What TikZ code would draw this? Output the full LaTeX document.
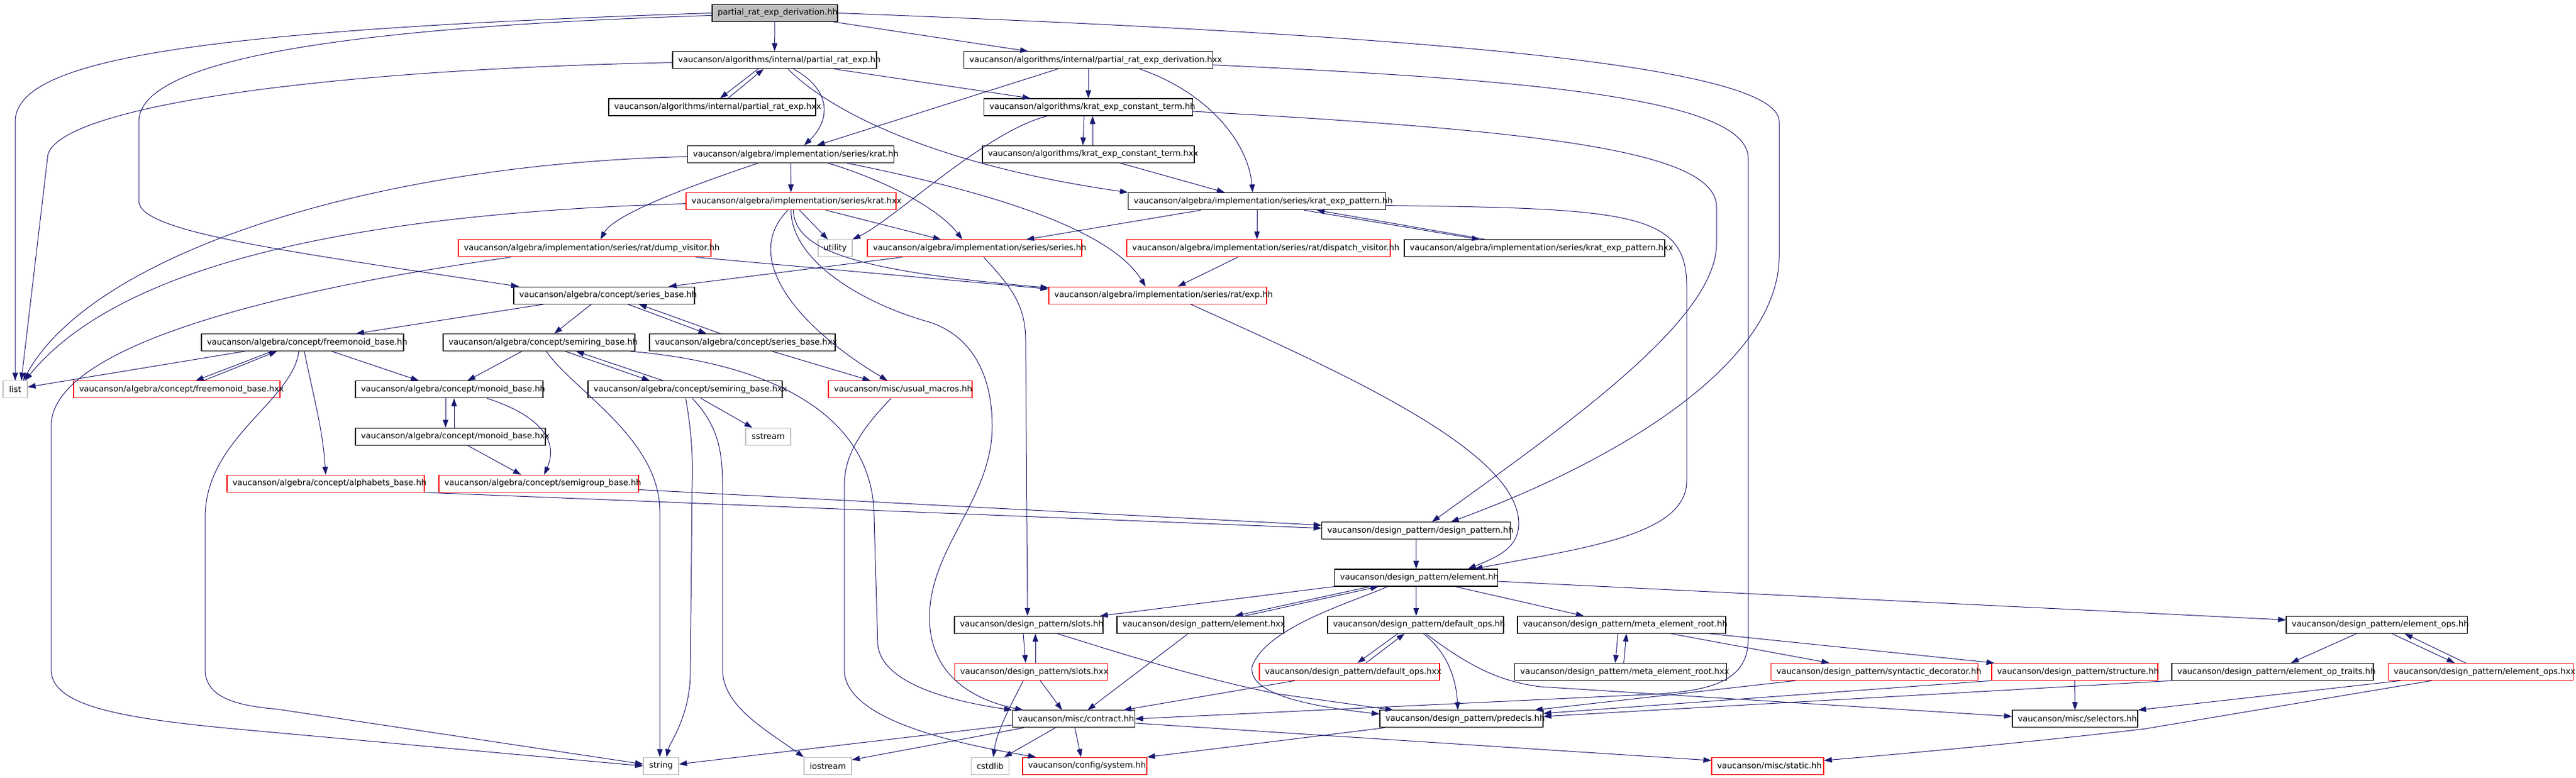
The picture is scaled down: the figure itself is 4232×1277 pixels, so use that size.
\documentclass[tikz,border=0pt]{standalone}
\usepackage{fontspec}
\setmainfont{DejaVu Sans}
\usetikzlibrary{arrows.meta}
\definecolor{edgec}{HTML}{191970}
\newcommand{\lb}[2]{\makebox[#1pt][l]{\hspace{9pt}#2}}
\tikzset{
  nd/.style={rectangle, inner sep=0pt, minimum height=28pt, font=\fontsize{13.5}{16}\selectfont, text=black},
  bk/.style={nd, draw=black, line width=1.1pt},
  rd/.style={nd, draw=red, line width=1.1pt},
  gy/.style={nd, draw=gray!50, line width=1.1pt},
  rt/.style={bk, fill=gray!50},
  conn/.style={draw=edgec, line width=1pt, -{Triangle[length=13pt,width=9pt]}},
}
\begin{document}
\begin{tikzpicture}[x=1pt,y=-1pt]
\fill[white] (0,0) rectangle (4232,1277);
\useasboundingbox (0,0) rectangle (4232,1277);
% nodes
\node[rt] (root) at (1273,21.4) {\lb{206}{partial\_rat\_exp\_derivation.hh}};
\node[bk] (prh) at (1272.5,98.7) {\lb{335}{vaucanson/algorithms/internal/partial\_rat\_exp.hh}};
\node[bk] (prdx) at (1788,98.7) {\lb{409}{vaucanson/algorithms/internal/partial\_rat\_exp\_derivation.hxx}};
\node[bk] (prx) at (1170,176) {\lb{340}{vaucanson/algorithms/internal/partial\_rat\_exp.hxx}};
\node[bk] (cth) at (1788,176) {\lb{343}{vaucanson/algorithms/krat\_exp\_constant\_term.hh}};
\node[bk] (krh) at (1299,253.3) {\lb{339}{vaucanson/algebra/implementation/series/krat.hh}};
\node[bk] (ctx) at (1788,253.3) {\lb{348}{vaucanson/algorithms/krat\_exp\_constant\_term.hxx}};
\node[rd] (krx) at (1299.5,330.6) {\lb{345}{vaucanson/algebra/implementation/series/krat.hxx}};
\node[bk] (keph) at (2065,330.6) {\lb{423}{vaucanson/algebra/implementation/series/krat\_exp\_pattern.hh}};
\node[rd] (dump) at (960.5,407.9) {\lb{415}{vaucanson/algebra/implementation/series/rat/dump\_visitor.hh}};
\node[gy, minimum width=56pt] (util) at (1372,407.9) {utility};
\node[rd] (serh) at (1601,407.9) {\lb{352}{vaucanson/algebra/implementation/series/series.hh}};
\node[rd] (disp) at (2067.5,407.9) {\lb{433}{vaucanson/algebra/implementation/series/rat/dispatch\_visitor.hh}};
\node[bk] (kepx) at (2521,407.9) {\lb{428}{vaucanson/algebra/implementation/series/krat\_exp\_pattern.hxx}};
\node[bk] (sbh) at (992.5,485.2) {\lb{297}{vaucanson/algebra/concept/series\_base.hh}};
\node[rd] (exph) at (1902,485.2) {\lb{358}{vaucanson/algebra/implementation/series/rat/exp.hh}};
\node[bk] (fmh) at (497,562.5) {\lb{332}{vaucanson/algebra/concept/freemonoid\_base.hh}};
\node[bk] (srh) at (885.5,562.5) {\lb{315}{vaucanson/algebra/concept/semiring\_base.hh}};
\node[bk] (sbx) at (1219.5,562.5) {\lb{305}{vaucanson/algebra/concept/series\_base.hxx}};
\node[gy, minimum width=40pt] (list) at (25,639.8) {list};
\node[rd] (fmx) at (290.5,639.8) {\lb{339}{vaucanson/algebra/concept/freemonoid\_base.hxx}};
\node[bk] (mbh) at (738,639.8) {\lb{308}{vaucanson/algebra/concept/monoid\_base.hh}};
\node[bk] (srx) at (1125.5,639.8) {\lb{319}{vaucanson/algebra/concept/semiring\_base.hxx}};
\node[rd] (macro) at (1479,639.8) {\lb{236}{vaucanson/misc/usual\_macros.hh}};
\node[bk] (mbx) at (740,717.1) {\lb{312}{vaucanson/algebra/concept/monoid\_base.hxx}};
\node[gy, minimum width=74pt] (sstr) at (1262,717.1) {sstream};
\node[rd] (alph) at (535,794.4) {\lb{324}{vaucanson/algebra/concept/alphabets\_base.hh}};
\node[rd] (semg) at (885,794.4) {\lb{328}{vaucanson/algebra/concept/semigroup\_base.hh}};
\node[bk] (dph) at (2326.6,871.7) {\lb{310}{vaucanson/design\_pattern/design\_pattern.hh}};
\node[bk] (elh) at (2326.6,949) {\lb{268}{vaucanson/design\_pattern/element.hh}};
\node[bk] (slh) at (1690,1026.3) {\lb{244}{vaucanson/design\_pattern/slots.hh}};
\node[bk] (elx) at (1972,1026.3) {\lb{274}{vaucanson/design\_pattern/element.hxx}};
\node[bk] (doh) at (2325.5,1026.3) {\lb{289}{vaucanson/design\_pattern/default\_ops.hh}};
\node[bk] (meh) at (2664,1026.3) {\lb{342}{vaucanson/design\_pattern/meta\_element\_root.hh}};
\node[bk] (eoh) at (3904.5,1026.3) {\lb{297}{vaucanson/design\_pattern/element\_ops.hh}};
\node[rd] (slx) at (1694,1103.6) {\lb{251}{vaucanson/design\_pattern/slots.hxx}};
\node[rd] (dox) at (2217,1103.6) {\lb{296}{vaucanson/design\_pattern/default\_ops.hxx}};
\node[bk] (mex) at (2662.6,1103.6) {\lb{348}{vaucanson/design\_pattern/meta\_element\_root.hxx}};
\node[rd] (syn) at (3079.5,1103.6) {\lb{340}{vaucanson/design\_pattern/syntactic\_decorator.hh}};
\node[rd] (stru) at (3408.5,1103.6) {\lb{273}{vaucanson/design\_pattern/structure.hh}};
\node[bk] (opt) at (3733.5,1103.6) {\lb{331}{vaucanson/design\_pattern/element\_op\_traits.hh}};
\node[rd] (eox) at (4075.7,1103.6) {\lb{304}{vaucanson/design\_pattern/element\_ops.hxx}};
\node[bk] (ctr) at (1763.8,1180.9) {\lb{201}{vaucanson/misc/contract.hh}};
\node[bk] (pred) at (2401,1180.9) {\lb{268}{vaucanson/design\_pattern/predecls.hh}};
\node[bk] (sel) at (3409,1180.9) {\lb{206}{vaucanson/misc/selectors.hh}};
\node[gy, minimum width=58pt] (str) at (1086,1258.2) {string};
\node[gy, minimum width=78pt] (ios) at (1360,1258.2) {iostream};
\node[gy, minimum width=62pt] (cstd) at (1626.7,1258.2) {cstdlib};
\node[rd] (sys) at (1782,1258.2) {\lb{204}{vaucanson/config/system.hh}};
\node[rd] (stat) at (2904,1258.2) {\lb{184}{vaucanson/misc/static.hh}};
% edges from root
\draw[conn] (root.west) .. controls (300,50) and (25,100) .. (25,200) -- (list.north);
\draw[conn] ([yshift=-4pt]root.west) .. controls (550,45) and (228,100) .. (228,200) -- (228,330) .. controls (228,380) and (450,410) .. ([xshift=-140pt]sbh.north);
\draw[conn] (root) -- (prh);
\draw[conn] (root) -- ([xshift=-99pt]prdx.north);
\draw[conn] (root.east) .. controls (2250,55) and (2923,100) .. (2923,200) -- (2923,420) .. controls (2923,600) and (2650,760) .. ([xshift=57pt]dph.north);
% partial_rat_exp.hh
\draw[conn] ([yshift=-4pt]prh.west) .. controls (500,115) and (78,180) .. (78,260) -- ([xshift=10pt]list.north);
\draw[conn] ([xshift=-27pt]prh.south) -- ([xshift=13pt]prx.north);
\draw[conn] ([xshift=26pt]prx.north) -- ([xshift=-18pt]prh.south);
\draw[conn] ([xshift=31pt]prh.south) .. controls (1370,150) and (1362,200) .. ([xshift=22pt]krh.north);
\draw[conn] ([xshift=22pt]prh.south) .. controls (1360,180) and (1530,270) .. (keph.north west);
\draw[conn] (prh) -- ([xshift=-95pt]cth.north);
% partial_rat_exp_derivation.hxx
\draw[conn] (prdx) -- (cth);
\draw[conn] ([xshift=-50pt]prdx.south) -- ([xshift=43pt]krh.north);
\draw[conn] ([xshift=84pt]prdx.south) .. controls (1980,150) and (2050,230) .. ([xshift=-7pt]keph.north);
\draw[conn] ([yshift=-8pt]prdx.east) .. controls (2500,130) and (2872,160) .. (2872,260) -- (2872,1050) .. controls (2872,1125) and (2800,1138) .. (2682,1142) -- (ctr.east);
% krat_exp_constant_term
\draw[conn] ([xshift=-7pt]cth.south) -- ([xshift=-9pt]ctx.north);
\draw[conn] ([xshift=7pt]ctx.north) -- ([xshift=7pt]cth.south);
\draw[conn] ([xshift=-67pt]cth.south) .. controls (1620,215) and (1470,360) .. (util.north east);
\draw[conn] ([yshift=-7pt]cth.east) .. controls (2550,215) and (2820,250) .. (2820,340) -- (2820,400) .. controls (2820,520) and (2600,680) .. ([xshift=26pt]dph.north);
\draw[conn] ([xshift=52pt]ctx.south) -- ([xshift=-53pt]keph.north);
% krat.hh
\draw[conn] ([yshift=-4pt]krh.west) .. controls (600,270) and (150,420) .. ([xshift=13pt]list.north);
\draw[conn] ([xshift=-53pt]krh.south) .. controls (1150,300) and (1010,350) .. ([xshift=26pt]dump.north);
\draw[conn] (krh) -- (krx);
\draw[conn] ([xshift=61pt]krh.south) .. controls (1450,295) and (1540,340) .. ([xshift=-20pt]serh.north);
\draw[conn] ([xshift=92pt]krh.south) .. controls (1600,310) and (1820,370) .. ([xshift=-20pt]exph.north);
% krat.hxx
\draw[conn] ([yshift=-4pt]krx.west) .. controls (600,350) and (200,430) .. ([xshift=16pt]list.north);
\draw[conn] ([xshift=14pt]krx.south) -- ([xshift=-12pt]util.north);
\draw[conn] ([xshift=57pt]krx.south) -- ([xshift=-55pt]serh.north);
\draw[conn] ([xshift=4pt]krx.south) .. controls (1305,410) and (1400,445) .. ([yshift=-2pt]exph.north west);
\draw[conn] ([xshift=-5pt]krx.south) .. controls (1220,420) and (1300,530) .. ([xshift=-21pt]macro.north);
\draw[conn] (krx.south) .. controls (1300,430) and (1420,500) .. (1530,530) .. controls (1600,555) and (1630,620) .. (1630,700) .. controls (1630,820) and (1527,900) .. (1527,1014) .. controls (1527,1110) and (1600,1150) .. ([xshift=-83pt]ctr.north);
% dump_visitor
\draw[conn] ([xshift=-121pt]dump.south) .. controls (500,470) and (84,560) .. (84,700) -- (84,1100) .. controls (84,1160) and (200,1180) .. (393,1198) -- (str.west);
\draw[conn] ([xshift=182pt]dump.south) -- ([yshift=-4pt]exph.north west);
% series.hh
\draw[conn] ([xshift=-119pt]serh.south) -- ([xshift=106pt]sbh.north);
\draw[conn] ([xshift=15pt]serh.south) .. controls (1660,470) and (1685,500) .. (1685,560) -- ([xshift=-2pt]slh.north);
% krat_exp_pattern
\draw[conn] ([xshift=-92pt]keph.south) -- ([xshift=85pt]serh.north);
\draw[conn] (keph.south) -- (keph.south |- disp.north);
\draw[conn] ([xshift=77pt]keph.south) -- ([xshift=-90pt]kepx.north);
\draw[conn] ([xshift=-80pt]kepx.north) -- ([xshift=98pt]keph.south);
\draw[conn] ([yshift=-7pt]keph.east) .. controls (2680,342) and (2771,350) .. (2771,470) -- (2771,790) .. controls (2771,880) and (2600,900) .. ([xshift=96pt]elh.north);
% dispatch, exp
\draw[conn] ([xshift=-34pt]disp.south) -- ([xshift=33pt]exph.north);
\draw[conn] ([xshift=54pt]exph.south) .. controls (2200,610) and (2495,740) .. (2495,860) .. controls (2495,900) and (2460,915) .. ([xshift=85pt]elh.north);
% series_base
\draw[conn] ([xshift=-99pt]sbh.south) -- ([xshift=88pt]fmh.north);
\draw[conn] ([xshift=-21pt]sbh.south) -- ([xshift=25pt]srh.north);
\draw[conn] ([xshift=39pt]sbh.south) -- ([xshift=-59pt]sbx.north);
\draw[conn] ([xshift=-36pt]sbx.north) -- ([xshift=57pt]sbh.south);
\draw[conn] ([xshift=49pt]sbx.south) -- ([xshift=-49pt]macro.north);
% freemonoid
\draw[conn] ([xshift=-95pt]fmh.south) -- ([yshift=4pt]list.east);
\draw[conn] ([xshift=-50pt]fmh.south) -- ([xshift=31pt]fmx.north);
\draw[conn] ([xshift=44pt]fmx.north) -- ([xshift=-42pt]fmh.south);
\draw[conn] ([xshift=48pt]fmh.south) -- ([xshift=-50pt]mbh.north);
\draw[conn] ([xshift=3pt]fmh.south) .. controls (512,640) and (530,700) .. (alph.north);
\draw[conn] ([xshift=-6pt]fmh.south) .. controls (480,660) and (337,720) .. (337,850) -- (337,1100) .. controls (337,1150) and (400,1160) .. (456,1165) -- ([yshift=3pt]str.west);
% semiring
\draw[conn] ([xshift=-28pt]srh.south) -- ([xshift=30pt]mbh.north);
\draw[conn] ([xshift=43pt]srh.south) -- ([xshift=-58pt]srx.north);
\draw[conn] ([xshift=-36pt]srx.north) -- ([xshift=61pt]srh.south);
\draw[conn] ([xshift=12pt]srh.south) .. controls (940,640) and (1084,720) .. (1084,840) -- ([xshift=-2pt]str.north);
\draw[conn] ([xshift=150pt]srh.south) .. controls (1300,600) and (1436,700) .. (1436,850) -- (1442,1060) .. controls (1450,1120) and (1550,1150) .. (ctr.north west);
\draw[conn] ([xshift=1pt]srx.south) .. controls (1138,720) and (1138,760) .. (1137,800) -- (1134,1110) .. controls (1132,1180) and (1100,1220) .. ([xshift=9pt]str.north);
\draw[conn] ([xshift=12pt]srx.south) .. controls (1180,700) and (1187,740) .. (1187,800) -- (1187,1100) .. controls (1187,1160) and (1260,1200) .. (ios.north west);
\draw[conn] ([xshift=26pt]srx.south) -- ([xshift=-26pt]sstr.north);
% monoid
\draw[conn] ([xshift=-6pt]mbh.south) -- ([xshift=-8pt]mbx.north);
\draw[conn] ([xshift=6pt]mbx.north) -- ([xshift=8pt]mbh.south);
\draw[conn] ([xshift=62pt]mbh.south) .. controls (880,680) and (920,720) .. ([xshift=9pt]semg.north);
\draw[conn] ([xshift=28pt]mbx.south) -- ([xshift=-29pt]semg.north);
\draw[conn] ([yshift=-10pt]semg.east) -- ([yshift=9pt]dph.west);
\draw[conn] (alph.south east) -- ([yshift=4pt]dph.west);
% usual_macros
\draw[conn] ([xshift=-15pt]macro.south) .. controls (1400,720) and (1387,760) .. (1387,800) -- (1387,1100) .. controls (1387,1180) and (1560,1220) .. ([xshift=-80pt]sys.north);
% design pattern, element
\draw[conn] (dph) -- (elh);
\draw[conn] (elh.south west) -- ([xshift=117pt]slh.north);
\draw[conn] ([xshift=-76pt]elh.south) -- ([xshift=57pt]elx.north);
\draw[conn] ([xshift=73pt]elx.north) -- ([xshift=-62pt]elh.south);
\draw[conn] (elh.south) -- (elh.south |- doh.north);
\draw[conn] ([xshift=64pt]elh.south) -- ([xshift=-62pt]meh.north);
\draw[conn] ([yshift=-6pt]elh.east) -- ([yshift=8pt]eoh.west);
\draw[conn] ([xshift=-47pt]elh.south) .. controls (2220,990) and (2080,1030) .. (2057,1095) .. controls (2050,1140) and (2150,1160) .. ([yshift=8pt]pred.west);
% slots
\draw[conn] ([xshift=-9pt]slh.south) -- ([xshift=-9pt]slx.north);
\draw[conn] ([xshift=7pt]slx.north) -- ([xshift=11pt]slh.south);
\draw[conn] ([xshift=47pt]slh.south) .. controls (1800,1060) and (1950,1110) .. (2100,1140) -- ([xshift=-112pt]pred.north);
\draw[conn] ([xshift=15pt]slx.south) -- ([xshift=-19pt]ctr.north);
\draw[conn] ([xshift=-13pt]slx.south) .. controls (1660,1160) and (1638,1200) .. ([xshift=5pt]cstd.north);
\draw[conn] ([xshift=-20pt]elx.south) -- ([xshift=23pt]ctr.north);
% default ops
\draw[conn] ([xshift=-90pt]dox.south) -- ([xshift=82pt]ctr.north);
\draw[conn] ([xshift=-29pt]doh.south) -- ([xshift=13pt]dox.north);
\draw[conn] ([xshift=27pt]dox.north) -- ([xshift=-18pt]doh.south);
\draw[conn] ([xshift=13pt]doh.south) .. controls (2375,1070) and (2392,1110) .. ([xshift=-6pt]pred.north);
\draw[conn] ([xshift=17pt]doh.south) .. controls (2420,1100) and (2470,1120) .. (2530,1128) -- ([yshift=4pt]sel.west);
% meta element root
\draw[conn] ([xshift=-6pt]meh.south) -- ([xshift=-9pt]mex.north);
\draw[conn] ([xshift=5pt]mex.north) -- ([xshift=8pt]meh.south);
\draw[conn] ([xshift=81pt]meh.south) -- ([xshift=-74pt]syn.north);
\draw[conn] ([xshift=144pt]meh.south) -- ([xshift=5pt]stru.north west);
\draw[conn] ([xshift=-130pt]syn.south) -- ([xshift=120pt]pred.north);
\draw[conn] (stru.south west) -- ([yshift=9pt]pred.east);
\draw[conn] (opt.south west) -- ([yshift=4pt]pred.east);
\draw[conn] (stru) -- (sel);
% element ops
\draw[conn] ([xshift=-33pt]eoh.south) -- ([xshift=30pt]opt.north);
\draw[conn] ([xshift=25pt]eoh.south) -- ([xshift=-43pt]eox.north);
\draw[conn] ([xshift=-25pt]eox.north) -- ([xshift=46pt]eoh.south);
\draw[conn] ([xshift=-132pt]eox.south) -- (sel.north east);
\draw[conn] ([xshift=-81pt]eox.south) -- (3525,1197) .. controls (3400,1212) and (3200,1232) .. ([yshift=9pt]stat.east);
% contract, predecls
\draw[conn] ([yshift=-10pt]ctr.west) -- ([yshift=3pt]str.east);
\draw[conn] ([xshift=-82pt]ctr.south) -- ([yshift=10pt]ios.east);
\draw[conn] ([xshift=-30pt]ctr.south) -- ([xshift=23pt]cstd.north);
\draw[conn] ([xshift=2pt]ctr.south) -- ([xshift=-6pt]sys.north);
\draw[conn] ([yshift=-7pt]ctr.east) -- ([yshift=9pt]stat.west);
\draw[conn] ([xshift=-126pt]pred.south) -- (sys.north east);
\end{tikzpicture}
\end{document}
